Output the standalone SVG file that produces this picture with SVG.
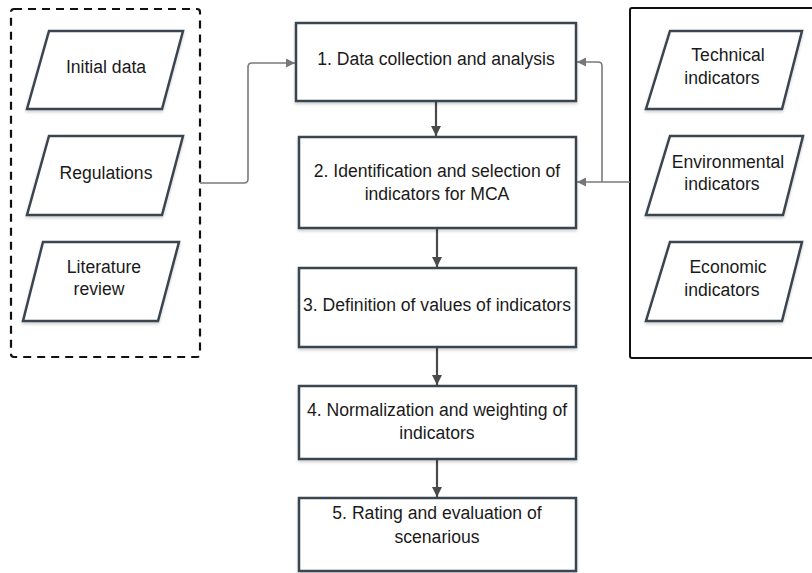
<svg xmlns="http://www.w3.org/2000/svg" width="812" height="573" viewBox="0 0 812 573">
  <defs>
    <filter id="shadow" x="-10%" y="-10%" width="120%" height="130%">
      <feDropShadow dx="0" dy="2" stdDeviation="1.5" flood-color="#000" flood-opacity="0.18"/>
    </filter>
    <marker id="headDark" viewBox="0 0 10 10" refX="10" refY="5" markerWidth="10" markerHeight="10" markerUnits="userSpaceOnUse" orient="auto">
      <path d="M0,0 L10,5 L0,10 Z" fill="#4a4a4a"/>
    </marker>
    <marker id="headGrey" viewBox="0 0 10 10" refX="10" refY="5" markerWidth="11" markerHeight="9" markerUnits="userSpaceOnUse" orient="auto">
      <path d="M0,0 L10,5 L0,10 Z" fill="#777"/>
    </marker>
  </defs>
  <style>
    .node { fill: #fff; stroke: #3b444f; stroke-width: 2.5; filter: url(#shadow); }
    .label { font-family: "Liberation Sans", Arial, sans-serif; font-size: 17.6px; fill: #1a1a1a; text-anchor: middle; }
    .flow { fill: none; stroke: #4a4a4a; stroke-width: 2.2; marker-end: url(#headDark); }
    .side { fill: none; stroke: #7a7a7a; stroke-width: 1.6; marker-end: url(#headGrey); }
  </style>

  <rect width="812" height="573" fill="#fff"/>

  <!-- input groups -->
  <g id="inputs-group">
    <rect x="11" y="9" width="189" height="348" rx="3" fill="none" stroke="#111" stroke-width="2.2" stroke-dasharray="8 6"/>
  </g>
  <g id="indicators-group">
    <rect x="630" y="8" width="200" height="350" rx="2" fill="none" stroke="#111" stroke-width="2"/>
  </g>

  <!-- connectors -->
  <g id="connectors">
    <path class="flow" d="M436,102 V136"/>
    <path class="flow" d="M437,229 V267"/>
    <path class="flow" d="M437,348 V385"/>
    <path class="flow" d="M437,460 V497"/>
    <path class="side" d="M200,183 H244 Q248,183 248,179 V67 Q248,63 252,63 H295"/>
    <path class="side" d="M630,182 H577"/>
    <path class="side" d="M602,182 V66 Q602,62 598,62 H577"/>
  </g>

  <!-- process steps -->
  <g id="step1">
    <rect class="node" x="296" y="23" width="280" height="78"/>
    <text class="label" x="436" y="65">1. Data collection and analysis</text>
  </g>
  <g id="step2">
    <rect class="node" x="299" y="137" width="277" height="91"/>
    <text class="label" x="437" y="177">2. Identification and selection of</text>
    <text class="label" x="437" y="200">indicators for MCA</text>
  </g>
  <g id="step3">
    <rect class="node" x="299" y="268" width="277" height="79"/>
    <text class="label" x="437" y="311">3. Definition of values of indicators</text>
  </g>
  <g id="step4">
    <rect class="node" x="299" y="386" width="277" height="73"/>
    <text class="label" x="437" y="416">4. Normalization and weighting of</text>
    <text class="label" x="437" y="439">indicators</text>
  </g>
  <g id="step5">
    <rect class="node" x="299" y="498" width="277" height="73"/>
    <text class="label" x="437" y="519">5. Rating and evaluation of</text>
    <text class="label" x="437" y="543">scenarious</text>
  </g>

  <!-- data inputs -->
  <g id="initial-data">
    <polygon class="node" points="49,31 183,31 162,109 27,109"/>
    <text class="label" x="106" y="73">Initial data</text>
  </g>
  <g id="regulations">
    <polygon class="node" points="49,136 183,136 162,215 27,215"/>
    <text class="label" x="106" y="179">Regulations</text>
  </g>
  <g id="literature-review">
    <polygon class="node" points="43,242 179,242 158,321 23,321"/>
    <text class="label" x="104" y="273">Literature</text>
    <text class="label" x="99" y="295">review</text>
  </g>

  <!-- indicator inputs -->
  <g id="technical">
    <polygon class="node" points="670,31 802,31 782,109 646,109"/>
    <text class="label" x="728" y="61">Technical</text>
    <text class="label" x="722" y="84">indicators</text>
  </g>
  <g id="environmental">
    <polygon class="node" points="670,136 803,136 783,215 646,215"/>
    <text class="label" x="728" y="168">Environmental</text>
    <text class="label" x="722" y="190">indicators</text>
  </g>
  <g id="economic">
    <polygon class="node" points="670,242 802,242 782,321 646,321"/>
    <text class="label" x="728" y="273">Economic</text>
    <text class="label" x="722" y="296">indicators</text>
  </g>
</svg>
